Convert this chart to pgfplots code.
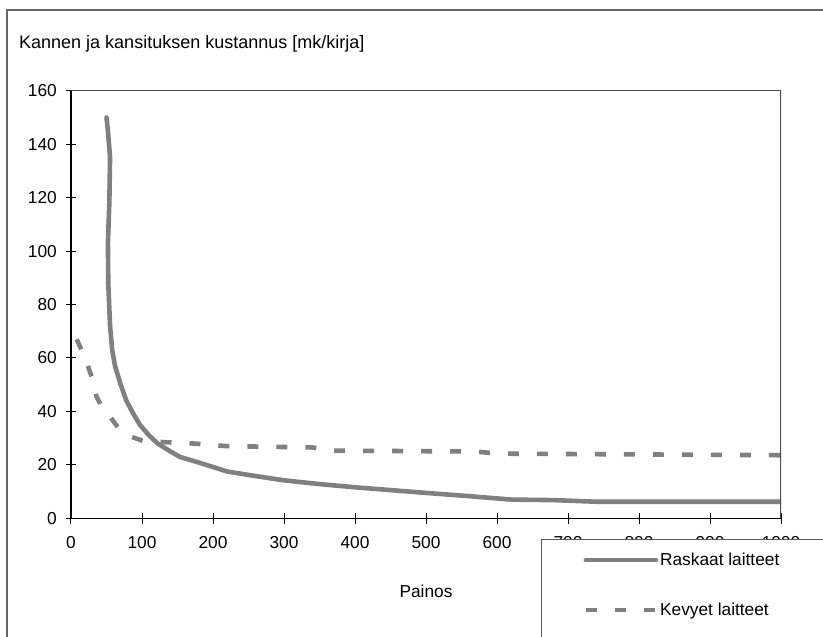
\documentclass[border=0pt]{standalone}
\usepackage{fontspec}
\setmainfont{Liberation Sans}
\usepackage{pgfplots}
\pgfplotsset{compat=1.18}
\definecolor{seriesgray}{RGB}{128,128,128}
\newcommand{\chartfont}{\fontsize{17.3}{20}\selectfont}

% Raskaat laitteet
\pgfplotstableread{
x y
50 150
52 145
55 135
54 118
52 103
52.5 88
55 72
58 63
62 57
70 50
78 44
88 39
97 35
110 31
122 28
137 25.5
153 23
182 20.7
220 17.5
260 15.8
300 14.2
350 12.8
400 11.6
500 9.5
560 8.3
620 7.0
680 6.8
740 6.2
1000 6.2
}\raskaat

% Kevyet laitteet
\pgfplotstableread{
x y
8 67
20 60
29 53
36 45.5
45 41
55 38
69 33
85 30.5
101 29
130 28.5
172 28
219 27
272 26.8
340 26.5
370 25.3
570 25
600 24.2
1000 23.6
}\kevyet

\pgfplotsset{
  plotarea/.style={
    at={(71pt,118.7pt)}, anchor=south west,
    scale only axis, width=710pt, height=427.6pt,
    xmin=0, xmax=1000, ymin=0, ymax=160,
  },
  raskaat style/.style={seriesgray, line width=4.6pt, line join=round, line cap=round},
  kevyet style/.style={seriesgray, line width=4.6pt, dash pattern=on 11pt off 18pt},
}

\begin{document}
\chartfont
\begin{tikzpicture}
% chart frame
\draw[black!60, line width=1.5pt] (7pt,-20pt) -- (7pt,627pt) -- (850pt,627pt);
\node[anchor=base west, inner sep=0pt, font=\fontsize{18}{21}\selectfont]
  at (19pt,588.7pt) {Kannen ja kansituksen kustannus [mk/kirja]};
\begin{axis}[
  plotarea,
  xtick={0,100,...,1000}, ytick={0,20,...,160},
  axis lines*=left,
  axis line style={black, line width=1.3pt},
  tick align=center, major tick length=10.5pt,
  tick style={black, line width=1pt},
  tick label style={font=\chartfont},
  /pgf/number format/assume math mode=true,
  /pgf/number format/1000 sep={},
  xticklabel style={yshift=-7pt},
  yticklabel style={xshift=-3pt},
  xlabel={Painos},
  xlabel style={font=\chartfont, at={(axis description cs:0.5,0)}, anchor=base, yshift=-79pt},
]
\addplot[raskaat style] table {\raskaat};
\addplot[kevyet style] table {\kevyet};
% plot area border, top and right
\draw[black!70, line width=1.2pt] (rel axis cs:0,1) -- (rel axis cs:1,1) -- (rel axis cs:1,0);
\end{axis}
% legend panel, set over the lower tick labels
\begin{axis}[
  plotarea, hide axis,
  legend cell align=left,
  legend style={at={(0.662,-0.0484)}, anchor=north west, draw=black!65, line width=1pt, fill=white,
    font=\chartfont, inner xsep=42pt, inner ysep=11pt, row sep=31pt, nodes={inner sep=2pt}},
  legend image code/.code={\draw[#1] (0pt,0pt) -- (70pt,0pt);},
]
\addlegendimage{raskaat style}
\addlegendentry{Raskaat laitteet}
\addlegendimage{kevyet style}
\addlegendentry{Kevyet laitteet}
\addlegendimage{empty legend}
\addlegendentry{}
\end{axis}
\pgfresetboundingbox
\path[use as bounding box] (0pt,0pt) rectangle (823pt,637pt);
\end{tikzpicture}
\end{document}
